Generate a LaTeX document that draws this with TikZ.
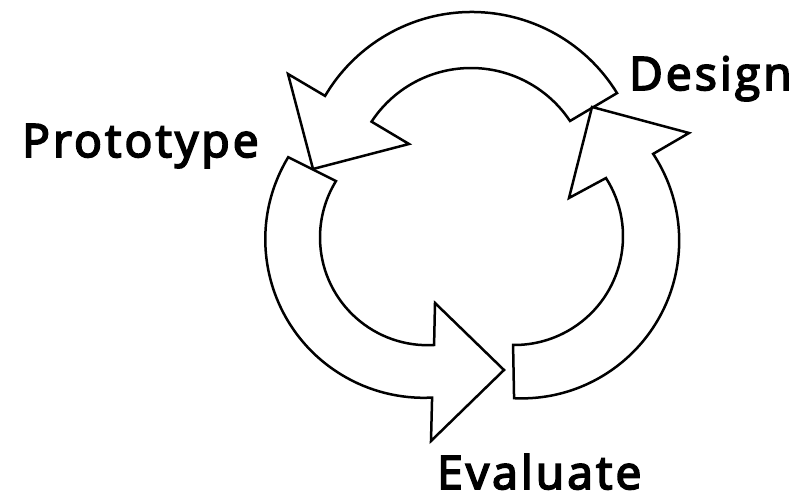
\documentclass[tikz,border=0pt]{standalone}
\usepackage{fontspec}
\setmainfont{Open Sans}
\newfontfamily\stagefont{Open Sans}[FakeBold=4, LetterSpace=7]
\usetikzlibrary{calc}

\begin{document}
\begin{tikzpicture}[x=1pt, y=1pt, line join=miter,
    arrowpart/.style={draw=black, line width=2.5pt, fill=white},
    stage/.style={font=\fontsize{46}{46}\selectfont\stagefont, inner sep=0pt, anchor=base west}]

  \useasboundingbox (0,0) rectangle (798,497);

  % centres of the three arcs (outer / inner rim)
  \coordinate (topO) at (471.9,314.6);
  \coordinate (topI) at (471,310);
  \coordinate (leftO) at (423.8,257.7);
  \coordinate (leftI) at (427.7,259.5);
  \coordinate (rightO) at (521.5,256.3);
  \coordinate (rightI) at (514.4,260.6);

  % Design -> Prototype
  \draw[arrowpart] ($(topO)+(31.6:170.4)$) arc[start angle=31.6, end angle=149.5, radius=170.4]
    -- (288,423) -- (313,328) -- (409,353) -- ($(topI)+(146.7:119)$)
    arc[start angle=146.7, end angle=33.7, radius=119] -- cycle;

  % Prototype -> Evaluate
  \draw[arrowpart] ($(leftO)+(148.8:158.5)$) arc[start angle=148.8, end angle=273, radius=158.5]
    -- (431,56) -- (504,127) -- (435,194) -- ($(leftI)+(273.4:107.7)$)
    arc[start angle=273.4, end angle=148.4, radius=107.7] -- cycle;

  % Evaluate -> Design
  \draw[arrowpart] ($(rightO)+(-92.7:157.7)$) arc[start angle=-92.7, end angle=33.4, radius=157.7]
    -- (689,364) -- (592,390) -- (569,299) -- ($(rightI)+(32.5:108.6)$)
    arc[start angle=32.5, end angle=-90.7, radius=108.6] -- cycle;

  \node[stage] (design) at (629,407) {Design};
  \node[stage] (prototype) at (22,340) {Prototype};
  \node[stage] (evaluate) at (437,8) {Evaluate};
\end{tikzpicture}
\end{document}
